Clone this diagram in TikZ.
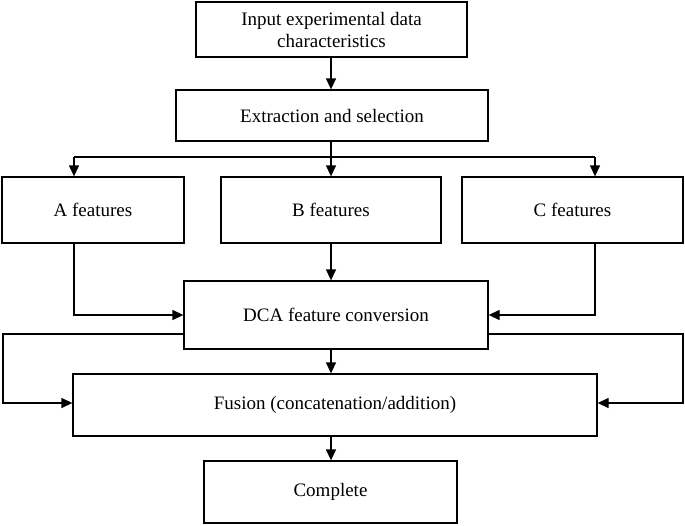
\documentclass[tikz,border=0pt]{standalone}
\usepackage{fontspec}
\setmainfont{Liberation Serif}
\usetikzlibrary{arrows.meta}
\begin{document}
\begin{tikzpicture}[x=1pt,y=-1pt,
  box/.style={draw,line width=1.3pt,inner sep=0pt,align=center,font=\fontsize{19}{22}\selectfont},
  arr/.style={line width=1.3pt,-{Triangle[length=11pt,width=10pt]}}]
\useasboundingbox (0,0) rectangle (685,525);
\newcommand\bx[6]{\node[box,minimum width=#4-#2,minimum height=#5-#3] (#1) at ({(#2+#4)/2},{(#3+#5)/2}) {#6};}
\bx{in}{196}{2}{467}{57}{Input experimental data\\characteristics}
\bx{ex}{176}{90}{488}{141}{Extraction and selection}
\bx{a}{2}{177}{184}{243}{A features}
\bx{b}{221}{177}{441}{243}{B features}
\bx{c}{462}{177}{683}{243}{C features}
\bx{dca}{184}{281}{488}{349}{DCA feature conversion}
\bx{fu}{73}{374}{597}{436}{Fusion (concatenation/addition)}
\bx{co}{204}{461}{457}{523}{Complete}
\coordinate (s) at (331,157);
\draw[arr] (in.south -| 331,0) -- (ex.north -| 331,0);
\draw[line width=1.3pt] (ex.south -| 331,0) -- (s);
\draw[line width=1.3pt] (74,157) -- (595,157);
\draw[arr] (74,157) -- (a.north -| 74,0);
\draw[arr] (s) -- (b.north -| 331,0);
\draw[arr] (595,157) -- (c.north -| 595,0);
\draw[arr] (a.south -| 74,0) |- (dca.west |- 0,315);
\draw[arr] (c.south -| 595,0) |- (dca.east |- 0,315);
\draw[arr] (b.south -| 331,0) -- (dca.north -| 331,0);
\draw[arr] (dca.south -| 331,0) -- (fu.north -| 331,0);
\draw[arr] (dca.west |- 0,334) -- (3,334) |- (fu.west |- 0,403);
\draw[arr] (dca.east |- 0,334) -- (683,334) |- (fu.east |- 0,403);
\draw[arr] (fu.south -| 331,0) -- (co.north -| 331,0);
\end{tikzpicture}
\end{document}
